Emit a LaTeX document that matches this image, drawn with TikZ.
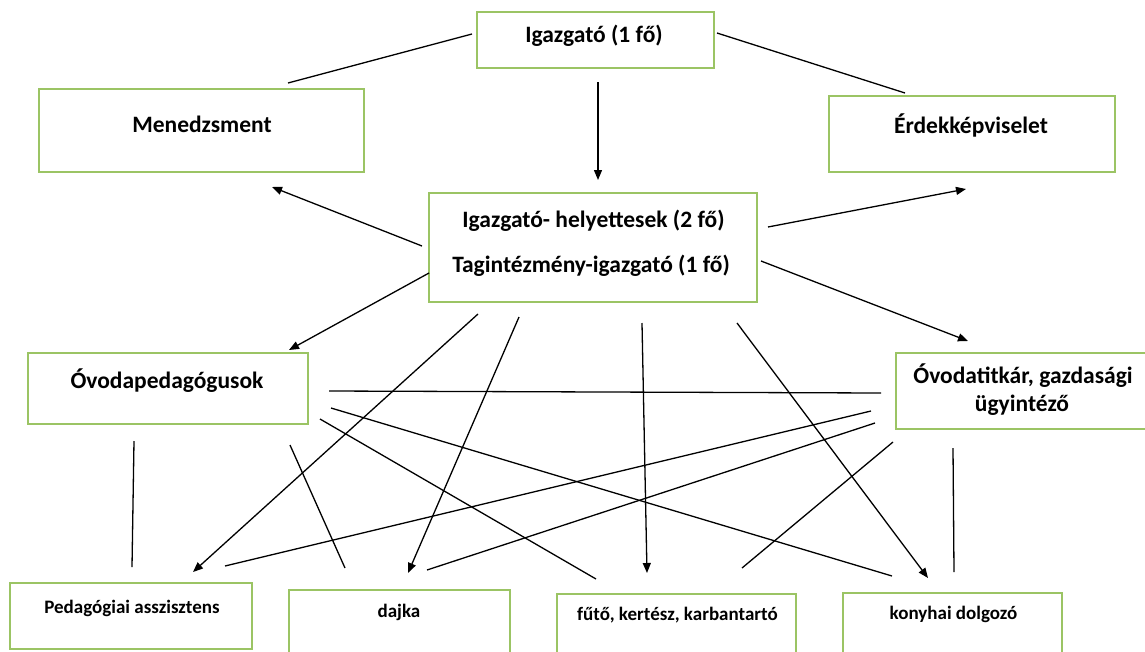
\documentclass[tikz,border=0pt]{standalone}
\usepackage{fontspec}
\setmainfont{Carlito}
\usetikzlibrary{arrows.meta}
\definecolor{boxgreen}{RGB}{155,196,100}
\tikzset{
  box/.style={draw=boxgreen, line width=2pt, inner sep=0pt},
  biglab/.style={anchor=base, inner sep=0pt, font=\fontsize{23.5}{28}\selectfont\bfseries},
  smalllab/.style={anchor=base, inner sep=0pt, font=\fontsize{19}{23}\selectfont\bfseries},
  conn/.style={line width=1.3pt, black},
  arr/.style={conn, -{Triangle[length=10pt,width=8pt]}}
}
\begin{document}
\begin{tikzpicture}[x=1pt,y=-1pt]
\useasboundingbox (0,0) rectangle (1145,651);
\clip (0,0) rectangle (1145,651);
% boxes
\node[box, minimum width=237, minimum height=56] (ig) at (595.5,40) {};
\node[box, minimum width=325, minimum height=83] (men) at (201.5,130.5) {};
\node[box, minimum width=286, minimum height=76] (erd) at (972,134) {};
\node[box, minimum width=328, minimum height=109] (hely) at (593,247.5) {};
\node[box, minimum width=280, minimum height=71] (ovp) at (168,388.5) {};
\node[box, minimum width=260, minimum height=76] (ovt) at (1026,390.5) {};
\node[box, minimum width=242, minimum height=66] (pa) at (131,616) {};
\node[box, minimum width=221, minimum height=80] (da) at (399.5,630) {};
\node[box, minimum width=239, minimum height=80] (fu) at (676.5,634) {};
\node[box, minimum width=219, minimum height=80] (ko) at (952.5,633) {};
% texts
\node[biglab] (ig-t) at (594,42) {Igazgató (1 fő)};
\node[biglab] (men-t) at (202,132) {Menedzsment};
\node[biglab] (erd-t) at (971,133) {Érdekképviselet};
\node[biglab] (hely-t1) at (593.5,227) {Igazgató- helyettesek (2 fő)};
\node[biglab] (hely-t2) at (591,272) {Tagintézmény-igazgató (1 fő)};
\node[biglab] (ovp-t) at (167,388) {Óvodapedagógusok};
\node[biglab] (ovt-t1) at (1023,383) {Óvodatitkár, gazdasági};
\node[biglab] (ovt-t2) at (1022,411) {ügyintéző};
\node[smalllab] (pa-t) at (132,613) {Pedagógiai asszisztens};
\node[smalllab] (da-t) at (399,617) {dajka};
\node[smalllab] (fu-t) at (677.5,620) {fűtő, kertész, karbantartó};
\node[smalllab] (ko-t) at (953.5,619) {konyhai dolgozó};
% connector end points
\coordinate (c1a) at (472,34);  \coordinate (c1b) at (288,83);
\coordinate (c2a) at (717,33);  \coordinate (c2b) at (905,93);
\coordinate (c3a) at (598,82);  \coordinate (c3b) at (598,180);
\coordinate (c4a) at (422,246); \coordinate (c4b) at (272,187);
\coordinate (c5a) at (768,227); \coordinate (c5b) at (966,189);
\coordinate (c6a) at (429,273); \coordinate (c6b) at (289,350);
\coordinate (c7a) at (761,261); \coordinate (c7b) at (968,341);
\coordinate (c8a) at (478,314); \coordinate (c8b) at (193,572);
\coordinate (c9a) at (519,317); \coordinate (c9b) at (408,573);
\coordinate (c10a) at (642,323); \coordinate (c10b) at (647,573);
\coordinate (c11a) at (737,323); \coordinate (c11b) at (928,578);
\coordinate (c12a) at (329,391); \coordinate (c12b) at (881,393);
\coordinate (c13a) at (331,408); \coordinate (c13b) at (892,576);
\coordinate (c14a) at (320,419); \coordinate (c14b) at (596,579);
\coordinate (c15a) at (134,441); \coordinate (c15b) at (132,567);
\coordinate (c16a) at (290,445); \coordinate (c16b) at (345,568);
\coordinate (c17a) at (871,411); \coordinate (c17b) at (225,566);
\coordinate (c18a) at (875,423); \coordinate (c18b) at (427,570);
\coordinate (c19a) at (893,442); \coordinate (c19b) at (742,568);
\coordinate (c20a) at (953,448); \coordinate (c20b) at (954,572);
% connectors
\draw[conn] (c1a) -- (c1b);
\draw[conn] (c2a) -- (c2b);
\draw[arr] (c3a) -- (c3b);
\draw[arr] (c4a) -- (c4b);
\draw[arr] (c5a) -- (c5b);
\draw[arr] (c6a) -- (c6b);
\draw[arr] (c7a) -- (c7b);
\draw[arr] (c8a) -- (c8b);
\draw[arr] (c9a) -- (c9b);
\draw[arr] (c10a) -- (c10b);
\draw[arr] (c11a) -- (c11b);
\draw[conn] (c12a) -- (c12b);
\draw[conn] (c13a) -- (c13b);
\draw[conn] (c14a) -- (c14b);
\draw[conn] (c15a) -- (c15b);
\draw[conn] (c16a) -- (c16b);
\draw[conn] (c17a) -- (c17b);
\draw[conn] (c18a) -- (c18b);
\draw[conn] (c19a) -- (c19b);
\draw[conn] (c20a) -- (c20b);
\end{tikzpicture}
\end{document}
